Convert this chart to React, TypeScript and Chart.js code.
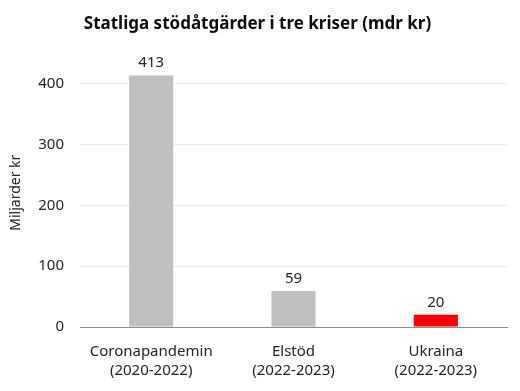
import React, { useEffect, useRef } from "react";
import { Chart, registerables } from "chart.js";

Chart.register(...registerables);

const categories: string[][] = [
  ["Coronapandemin", "(2020-2022)"],
  ["Elstöd", "(2022-2023)"],
  ["Ukraina", "(2022-2023)"],
];
const values: number[] = [413, 59, 20];
const barColors: string[] = ["#bfbfbf", "#bfbfbf", "#ff0000"];
const yTicks: number[] = [0, 100, 200, 300, 400];
const titleText = "Statliga stödåtgärder i tre kriser (mdr kr)";
const yTitle = "Miljarder kr";

const FONT = "'Noto Sans', Arial, sans-serif";

const dataLabels = {
  id: "dataLabels",
  afterDatasetsDraw(chart: any) {
    const ctx = chart.ctx;
    const meta = chart.getDatasetMeta(0);
    ctx.save();
    ctx.font = `15px ${FONT}`;
    ctx.fillStyle = "#262626";
    ctx.textAlign = "center";
    ctx.textBaseline = "bottom";
    meta.data.forEach((bar: any, i: number) => {
      ctx.fillText(String(values[i]), bar.x, bar.y - 5);
    });
    // y axis title, slightly above the plot's centre as in the source
    const area = chart.chartArea;
    ctx.font = `14px ${FONT}`;
    ctx.textBaseline = "middle";
    ctx.translate(area.left - 72 + 8, (area.top + area.bottom) / 2 - 8);
    ctx.rotate(-Math.PI / 2);
    ctx.fillText(yTitle, 0, 0);
    ctx.restore();
  },
};

export default function App() {
  const ref = useRef<HTMLCanvasElement>(null);
  useEffect(() => {
    if (!ref.current) return;
    const chart = new Chart(ref.current, {
      type: "bar",
      data: {
        labels: categories,
        datasets: [
          {
            data: values,
            backgroundColor: barColors,
            barPercentage: 0.62,
            categoryPercentage: 0.5,
          },
        ],
      },
      options: {
        animation: false,
        responsive: true,
        maintainAspectRatio: false,
        layout: { padding: { top: 0, right: 5, left: 0, bottom: 0 } },
        plugins: {
          legend: { display: false },
          tooltip: { enabled: false },
          title: {
            display: true,
            text: titleText,
            color: "#0d0d0d",
            font: { family: FONT, size: 17, weight: "bold" },
            padding: { top: 6, bottom: 40 },
          },
        },
        scales: {
          x: {
            afterFit: (scale: any) => {
              scale.height = 64;
            },
            grid: { display: false },
            border: { display: true, color: "#8c8c8c", width: 1 },
            ticks: {
              color: "#262626",
              font: { family: FONT, size: 15, lineHeight: "19px" },
              padding: 7,
              maxRotation: 0,
            },
          },
          y: {
            min: 0,
            max: 415,
            afterBuildTicks: (scale: any) => {
              scale.ticks = yTicks.map((v) => ({ value: v }));
            },
            afterFit: (scale: any) => {
              scale.width = 72;
            },
            grid: { color: "#ececec", drawTicks: false },
            border: { display: false },
            ticks: {
              color: "#262626",
              font: { family: FONT, size: 15 },
              padding: 16,
            },
            title: { display: false, text: yTitle },
          },
        },
      },
      plugins: [dataLabels],
    });
    return () => chart.destroy();
  }, []);
  return (
    <div style={{ width: 504, height: 383, position: "relative" }}>
      <canvas ref={ref} />
    </div>
  );
}
